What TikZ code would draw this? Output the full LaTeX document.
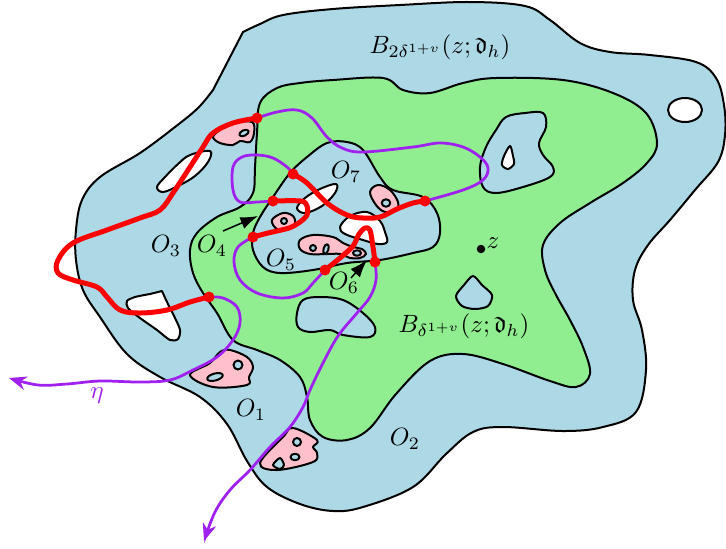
\documentclass[tikz,border=0pt]{standalone}
\usepackage{amssymb}
\usetikzlibrary{arrows.meta}
\definecolor{lblue}{HTML}{ADD8E6}
\definecolor{lgreen}{HTML}{90EE90}
\definecolor{lpink}{HTML}{FFC0CB}
\definecolor{vio}{HTML}{A020F0}
\begin{document}
\begin{tikzpicture}[x=0.4pt,y=-0.4pt,
  region/.style={draw=black,line width=0.8pt,line join=round},
  bl/.style={region,fill=lblue},
  gr/.style={region,fill=lgreen},
  wh/.style={region,fill=white},
  pk/.style={region,fill=lpink},
  redp/.style={red,line width=2pt,line cap=round,line join=round},
  vp/.style={vio,line width=1.1pt,line cap=round},
  rdot/.style={red},
  lab/.style={inner sep=0pt},
  sm/.style={smooth cycle,tension=0.6}]
\useasboundingbox (0,0) rectangle (726,548);

% outer region
\filldraw[bl] plot[smooth,tension=0.6] coordinates {(243,32) (260,24) (283,15) (333,9) (400,5) (470,2) (525,6) (550,20) (580,43) (610,52) (650,55) (696,62) (716,78) (724,105) (725,135) (718,162) (695,190) (670,220) (648,245) (635,270) (633,300) (642,330) (646,370) (636,412) (603,427) (563,431) (503,427) (473,432) (446,454) (413,487) (363,507) (333,511) (300,504) (267,487) (247,461) (227,424) (200,397) (160,377) (127,354) (100,317) (83,290) (76,260) (76,230) (82,200) (100,177) (140,153) (175,127) (198,108) (213,90)} -- cycle;

% holes in outer region
\filldraw[wh] (685,110) ellipse [x radius=6.8pt, y radius=4.8pt];
\filldraw[wh] plot[sm] coordinates {(157,187) (165,177) (178,164) (190,155) (210,151) (208,162) (195,176) (178,186) (163,192)};
\filldraw[wh] plot[smooth,tension=0.5] coordinates {(162,291) (167,302) (175,318) (180,330) (178,339) (170,340) (157,330) (140,318) (128,308) (127,301) (135,297) (150,294)} -- cycle;

% green region
\filldraw[gr] plot[sm] coordinates {(260,103) (277,88) (300,83) (333,80) (383,78) (403,90) (430,93) (463,83) (496,78) (563,80) (613,93) (646,113) (657,143) (647,163) (623,183) (590,203) (560,223) (543,245) (545,270) (555,293) (570,320) (583,347) (590,374) (576,387) (550,381) (503,364) (463,354) (430,361) (396,394) (370,428) (347,440) (323,437) (310,420) (307,397) (300,377) (280,360) (257,350) (233,340) (217,313) (203,293) (193,273) (190,250) (197,233) (217,217) (240,207) (253,193) (255,167) (257,133)};

% blue islands in green
\filldraw[bl] plot[sm] coordinates {(506,117) (525,113) (543,113) (546,127) (539,143) (543,155) (553,167) (550,177) (523,187) (496,193) (483,187) (480,167) (486,147) (496,130)};
\filldraw[wh] plot[smooth cycle,tension=0.5] coordinates {(510,146) (513,156) (514,164) (508,169) (502,165) (504,156)};
\filldraw[bl] plot[smooth cycle,tension=0.5] coordinates {(473,276) (482,285) (492,295) (488,306) (475,309) (462,306) (456,296) (464,285)};
\filldraw[bl] plot[sm] coordinates {(297,313) (303,300) (320,297) (343,300) (363,313) (375,327) (370,337) (343,335) (330,330) (310,332) (298,327)};
\filldraw[bl] plot[sm] coordinates {(253,250) (263,267) (280,273) (313,270) (347,263) (380,260) (413,253) (433,247) (440,233) (437,213) (423,197) (393,190) (380,177) (363,150) (347,142) (327,143) (307,157) (290,173) (273,197) (260,217) (253,233)};

% white shapes in inner blue
\filldraw[wh] plot[sm] coordinates {(297,208) (305,198) (320,189) (336,184) (335,193) (322,206) (305,213)};
\filldraw[wh] plot[sm] coordinates {(340,227) (350,216) (367,212) (380,221) (385,232) (387,242) (378,244) (363,240) (345,234)};

% pink shapes
\filldraw[pk] plot[sm] coordinates {(272,220) (283,213) (293,216) (295,224) (289,229) (277,229)};
\filldraw[bl] (284,221) circle (1.2pt);
\filldraw[pk] plot[sm] coordinates {(300,240) (313,235) (333,237) (343,243) (353,247) (362,249) (366,254) (360,258) (350,258) (340,254) (327,254) (310,254) (300,249)};
\filldraw[bl] (313,248) circle (1.2pt);
\filldraw[bl,rotate around={-15:(326,249)}] (326,249) ellipse [x radius=1pt, y radius=2pt];
\filldraw[bl] (357,253) ellipse [x radius=1.6pt, y radius=1.1pt];
\filldraw[pk] plot[sm] coordinates {(370,192) (378,185) (390,190) (398,202) (396,210) (385,212) (376,205)};
\filldraw[bl] (386,203) ellipse [x radius=1.7pt, y radius=1.5pt];
\filldraw[pk] plot[sm] coordinates {(213,137) (220,130) (233,123) (252,122) (254,133) (250,142) (240,141) (233,145) (220,143)};
\filldraw[bl,rotate around={25:(244,133)}] (244,133) ellipse [x radius=2pt, y radius=1.1pt];
\filldraw[pk] plot[sm] coordinates {(190,375) (210,363) (220,352) (230,350) (247,357) (253,367) (249,377) (247,385) (213,387)};
\filldraw[bl] (238,365) circle (1.8pt);
\filldraw[bl,rotate around={15:(215,377)}] (215,377) ellipse [x radius=3.2pt, y radius=1.4pt];
\filldraw[pk] plot[sm] coordinates {(260,463) (283,437) (293,428) (317,440) (313,447) (317,453) (313,462) (277,470)};
\filldraw[bl] (297,442) circle (1.6pt);
\filldraw[bl] (295,457) ellipse [x radius=1.8pt, y radius=1.3pt];
\filldraw[bl] plot[smooth cycle,tension=0.5] coordinates {(273,465) (280,458) (284,465) (280,469)};

% red dot coordinates
\coordinate (r1) at (257,118);
\coordinate (r2) at (209,297);
\coordinate (r3) at (293,174);
\coordinate (r4) at (425,201);
\coordinate (r5) at (273,201);
\coordinate (r6) at (253,237);
\coordinate (r7) at (325,270);
\coordinate (r8) at (375,262);
\coordinate (e1) at (204,541);
\coordinate (e2) at (9,378);

% purple curves
\draw[vp,-{Stealth[length=7pt,width=5.5pt]}] plot[smooth,tension=0.6] coordinates {(r8) (376,280) (370,297) (357,313) (338,336) (323,363) (310,390) (303,407) (290,427) (270,447) (250,470) (230,490) (215,512) (e1)};
\draw[vp] plot[smooth,tension=0.6] coordinates {(r7) (313,283) (303,293) (283,298) (257,293) (240,280) (234,262) (238,247) (r6)};
\draw[vp] plot[smooth,tension=0.6] coordinates {(r5) (257,202) (240,202) (233,190) (233,167) (242,157) (257,155) (273,158) (287,167) (r3)};
\draw[vp] plot[smooth,tension=0.6] coordinates {(r1) (277,112) (297,110) (312,118) (327,137) (342,148) (363,152) (413,147) (440,143) (463,147) (480,157) (488,168) (483,180) (463,190) (r4)};
\draw[vp,-{Stealth[length=7pt,width=5.5pt]}] plot[smooth,tension=0.6] coordinates {(r2) (223,298) (237,307) (240,323) (233,340) (217,357) (193,370) (170,380) (140,382) (100,381) (67,384) (38,385) (e2)};

% red curves
\draw[redp] plot[smooth,tension=0.6] coordinates {(r1) (233,123) (213,133) (203,147) (190,167) (173,193) (160,210) (140,218) (107,230) (73,243) (58,260) (58,273) (73,280) (97,287) (107,297) (120,310) (140,313) (167,310) (190,302) (r2)};
\draw[redp] plot[smooth,tension=0.6] coordinates {(r3) (307,183) (327,203) (347,215) (363,218) (380,217) (397,209) (413,203) (r4)};
\draw[redp] plot[smooth,tension=0.5] coordinates {(r5) (301,201) (307,206) (307,215) (300,222) (289,228) (268,233) (r6)};
\draw[redp] plot[smooth,tension=0.5] coordinates {(r7) (340,258) (353,246) (359,234) (365,228) (370,230) (373,247) (r8)};
\foreach \p in {r1,r2,r3,r4,r5,r6,r7,r8} \fill[rdot] (\p) circle (2.2pt);

% black arrows
\coordinate (a4s) at (223,231);
\coordinate (a4e) at (258,216);
\coordinate (a6s) at (351,278);
\coordinate (a6e) at (367,260);
\draw[line width=0.6pt,-{Latex[length=7pt,width=5pt]}] (a4s) -- (a4e);
\draw[line width=0.6pt,-{Latex[length=7pt,width=5pt]}] (a6s) -- (a6e);

% z
\coordinate (z) at (481,249);
\fill (z) circle (1.7pt);
\node[lab,anchor=west] (zl) at (486,243) {$z$};

% labels
\node[lab] (lO1) at (251,410) {$O_1$};
\node[lab] (lO2) at (405,439) {$O_2$};
\node[lab] (lO3) at (166,246) {$O_3$};
\node[lab] (lO4) at (212,246) {$O_4$};
\node[lab] (lO5) at (281,260) {$O_5$};
\node[lab] (lO6) at (344,283) {$O_6$};
\node[lab] (lO7) at (346,172) {$O_7$};
\node[lab] (lB2) at (440,47) {$B_{2\delta^{1+v}}(z;\mathfrak{d}_h)$};
\node[lab] (lB1) at (464,326) {$B_{\delta^{1+v}}(z;\mathfrak{d}_h)$};
\node[lab,text=vio] (leta) at (97,396) {$\eta$};
\end{tikzpicture}
\end{document}
